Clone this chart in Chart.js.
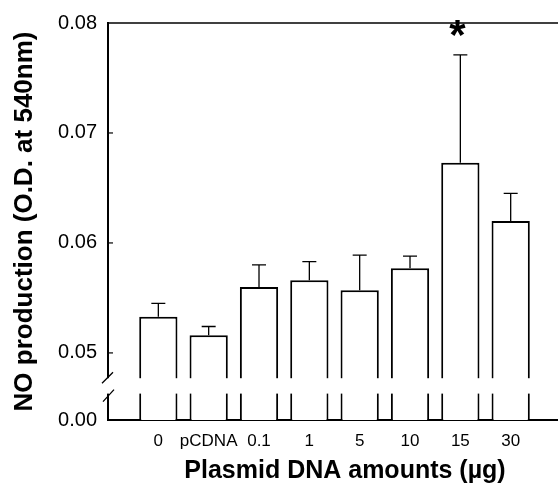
<!DOCTYPE html>
<html>
<head>
<meta charset="utf-8">
<script src="https://cdn.jsdelivr.net/npm/chart.js@4"></script>
<style>
  body { margin: 0; background: #fff; }
  #wrap { width: 558px; height: 485px; position: relative; }
</style>
</head>
<body>
<div id="wrap"><canvas id="myChart"></canvas></div>
<script>
// groups on the x axis
const cats = ['0', 'pCDNA', '0.1', '1', '5', '10', '15', '30'];
// NO production, O.D. at 540nm
const means = [0.0533, 0.0516, 0.0560, 0.0566, 0.0557, 0.0577, 0.0673, 0.0620];
// upper error bar (SD)
const errs = [0.0012, 0.0008, 0.0020, 0.0017, 0.0032, 0.0011, 0.0098, 0.0025];
// significance marks
const marks = ['', '', '', '', '', '', '*', ''];
// y ticks above the break
const yTicks = [0.05, 0.06, 0.07, 0.08];
const yTop = 0.08;
const xTitle = 'Plasmid DNA amounts (\u00b5g)';

// the axis is broken: 0.00 is drawn at this virtual value below 0.05
const zeroAt = 0.0439;
const gapHi = 0.0477;
const gapLo = 0.0463;
const xMax = 8.94;

const ctx = document.getElementById('myChart');
const font = '"Liberation Sans", Arial, Helvetica, sans-serif';

const breakPlugin = {
    id: 'breakPlugin',
    afterDatasetsDraw(chart) {
        const c = chart.ctx;
        const xs = chart.scales.x;
        const ys = chart.scales.y;
        const area = chart.chartArea;
        c.save();

        // error bars (upper only)
        c.strokeStyle = '#000';
        c.lineWidth = 1.3;
        means.forEach((m, i) => {
            const x = xs.getPixelForValue(i + 1);
            const y0 = ys.getPixelForValue(m);
            const y1 = ys.getPixelForValue(m + errs[i]);
            c.beginPath();
            c.moveTo(x, y0);
            c.lineTo(x, y1);
            c.moveTo(x - 7, y1);
            c.lineTo(x + 7, y1);
            c.stroke();
        });

        // significance marks
        c.fillStyle = '#000';
        c.font = 'bold 42px ' + font;
        c.textAlign = 'center';
        c.textBaseline = 'middle';
        marks.forEach((s, i) => {
            if (!s) return;
            c.fillText(s, xs.getPixelForValue(i + 1) - 3, area.top + 14);
        });

        // x axis title (sits a bit right of centre in the original)
        c.font = 'bold 25px ' + font;
        c.fillText(xTitle, (area.left + area.right) / 2 + 12, xs.bottom - 14);

        // top frame line
        c.lineWidth = 1.5;
        c.beginPath();
        c.moveTo(area.left, area.top);
        c.lineTo(area.right, area.top);
        c.stroke();

        // inward ticks
        c.lineWidth = 1.2;
        yTicks.slice(0, 3).forEach(v => {
            const y = ys.getPixelForValue(v);
            c.beginPath();
            c.moveTo(area.left, y);
            c.lineTo(area.left + 5, y);
            c.stroke();
        });

        // axis break
        const yh = ys.getPixelForValue(gapHi);
        const yl = ys.getPixelForValue(gapLo);
        c.fillStyle = '#fff';
        c.fillRect(area.left - 8, yh, area.right - area.left + 8, yl - yh);
        c.lineWidth = 1.3;
        c.beginPath();
        c.moveTo(area.left - 6, yh + 5);
        c.lineTo(area.left + 5, yh - 6);
        c.moveTo(area.left - 5, yl + 8);
        c.lineTo(area.left + 6, yl - 4);
        c.stroke();
        c.restore();
    }
};

new Chart(ctx, {
    type: 'bar',
    data: {
        datasets: [{
            data: means.map((m, i) => ({ x: i + 1, y: m })),
            backgroundColor: '#fff',
            borderColor: '#000',
            borderWidth: 2,
            borderSkipped: 'start',
            barPercentage: 0.76,
            categoryPercentage: 1
        }]
    },
    options: {
        responsive: true,
        maintainAspectRatio: false,
        animation: false,
        layout: { padding: { top: 20, right: 0, left: 0, bottom: 0 } },
        scales: {
            x: {
                type: 'linear',
                min: 0,
                max: xMax,
                offset: false,
                grid: { display: false, drawTicks: false },
                border: { color: '#000', width: 2 },
                afterBuildTicks: scale => {
                    scale.ticks = cats.map((c, i) => ({ value: i + 1 }));
                },
                afterFit: scale => { scale.height = 65; },
                ticks: {
                    padding: 11,
                    color: '#000',
                    font: { family: font, size: 17 },
                    callback: v => cats[v - 1] || ''
                }
            },
            y: {
                min: zeroAt,
                max: yTop,
                beginAtZero: false,
                grid: { display: false, drawTicks: false },
                border: { color: '#000', width: 2 },
                afterBuildTicks: scale => {
                    scale.ticks = [zeroAt].concat(yTicks).map(v => ({ value: v }));
                },
                afterFit: scale => { scale.width = 108; },
                ticks: {
                    padding: 11,
                    color: '#000',
                    font: { family: font, size: 20 },
                    callback: v => v === zeroAt ? '0.00' : v.toFixed(2)
                },
                title: {
                    display: true,
                    text: 'NO production (O.D. at 540nm)',
                    color: '#000',
                    font: { family: font, size: 26, weight: 'bold' },
                    padding: { top: 9, bottom: 0 }
                }
            }
        },
        plugins: {
            legend: { display: false },
            tooltip: { enabled: false }
        }
    },
    plugins: [breakPlugin]
});
</script>
</body>
</html>
